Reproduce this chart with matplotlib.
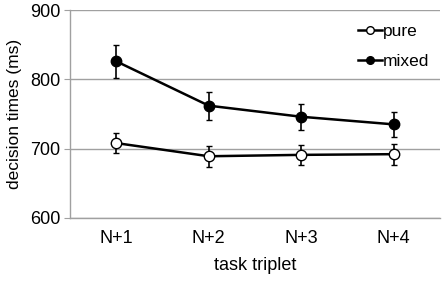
import matplotlib
matplotlib.use("Agg")
import matplotlib.pyplot as plt
from matplotlib.lines import Line2D

plt.rcParams['font.family'] = ['Liberation Sans', 'DejaVu Sans']

categories = ["N+1", "N+2", "N+3", "N+4"]
pure = [708, 689, 691, 692]
pure_err = [15, 15, 14, 15]
mixed = [826, 762, 746, 735]
mixed_err = [24, 20, 19, 18]

fig = plt.figure(figsize=(4.43, 2.86), dpi=100)
ax = fig.add_axes([0.158, 0.238, 0.835, 0.727])
x = list(range(1, len(categories) + 1))

ax.errorbar(x, pure, yerr=pure_err, color='black', lw=1.8, marker='o', ms=7.5,
            mfc='white', mec='black', mew=1.0, capsize=2.5, elinewidth=1.2,
            capthick=1.2, zorder=3)
ax.errorbar(x, mixed, yerr=mixed_err, color='black', lw=1.8, marker='o', ms=7.5,
            mfc='black', mec='black', mew=1.0, capsize=2.5, elinewidth=1.2,
            capthick=1.2, zorder=3)

ax.set_xlim(0.5, 4.5)
ax.set_ylim(600, 900)
ax.set_yticks([600, 700, 800, 900])
ax.set_xticks(x)
ax.set_xticklabels(categories)
ax.yaxis.grid(True, color='#a0a0a0', lw=1.0)
ax.set_axisbelow(True)
for s in ['top', 'right']:
    ax.spines[s].set_visible(False)
for s in ['left', 'bottom']:
    ax.spines[s].set_color('#a0a0a0')
    ax.spines[s].set_linewidth(1.0)
ax.tick_params(axis='y', length=4, color='#a0a0a0', labelsize=13, pad=3)
ax.tick_params(axis='x', length=0, labelsize=13, pad=9)
ax.set_xlabel('task triplet', fontsize=13, labelpad=7)
ax.set_ylabel('decision times (ms)', fontsize=12.5, labelpad=6)

handles = [
    Line2D([], [], color='black', lw=1.8, marker='o', ms=5.5, mfc='white', mec='black', mew=1.0),
    Line2D([], [], color='black', lw=1.8, marker='o', ms=5.5, mfc='black', mec='black', mew=1.0),
]
ax.legend(handles, ['pure', 'mixed'], loc='upper right', bbox_to_anchor=(1.0, 0.985),
          frameon=False, fontsize=12.5, handlelength=1.4, handletextpad=0.05,
          labelspacing=0.85, borderaxespad=0.2)

fig.savefig('out.png', dpi=100)
